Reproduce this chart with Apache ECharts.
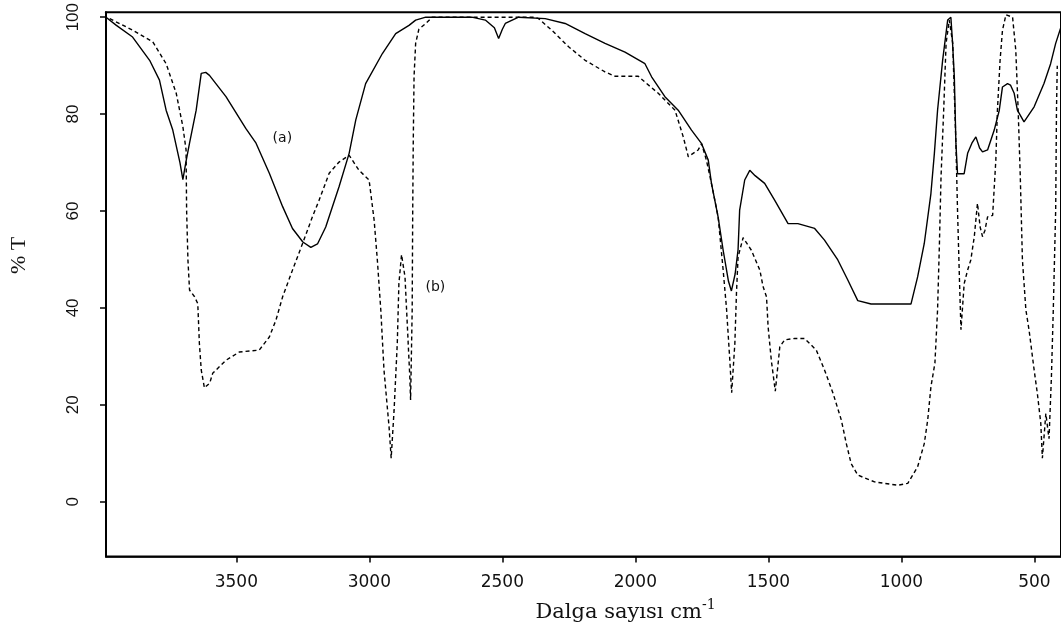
<!DOCTYPE html>
<html>
<head>
<meta charset="utf-8">
<script src="https://cdn.jsdelivr.net/npm/echarts@6/dist/echarts.min.js"></script>
<style>
  html, body { margin: 0; padding: 0; background: #fff; }
  #chart { width: 1061px; height: 639px; }
</style>
</head>
<body>
<div id="chart"></div>
<script>
// FTIR spectra: wavenumber (cm-1) vs. % transmittance
const waveA = [3990,3951,3890,3826,3789,3764,3739,3712,3701,3690,3676,3651,3632,3615,3601,3539,3464,3426,3376,3326,3289,3250,3220,3195,3164,3114,3076,3051,3014,2951,2901,2851,2826,2788,2615,2564,2530,2514,2500,2489,2439,2339,2264,2189,2114,2039,1964,1939,1889,1839,1789,1751,1726,1714,1689,1670,1650,1639,1625,1614,1608,1589,1570,1550,1514,1476,1426,1389,1326,1289,1239,1201,1164,1114,1050,964,939,914,889,876,864,845,826,814,808,801,795,789,764,751,735,720,706,695,676,651,632,620,601,590,576,564,539,501,464,439,420,400];
const transA = [100,98.3,95.9,91.1,87,80.8,76.7,70,66.5,70,74,80.8,88.4,88.6,88,83.6,77,74,67.8,60.9,56.4,53.6,52.5,53.2,56.7,65,71.9,78.8,86.3,92.5,96.6,98.3,99.4,100,100,99.4,97.8,95.6,97.5,98.7,100,99.7,98.7,96.6,94.6,92.8,90.4,87.7,83.6,80.8,76.7,73.9,70.5,65.7,58.8,51.9,45.5,43.5,47,52,60.2,66.4,68.4,67.3,65.7,62.2,57.4,57.4,56.4,54,49.9,45.7,41.5,40.8,40.8,40.8,46.4,53.3,63.6,71.9,80.8,91.1,99.4,100,95,87.7,73.9,67.7,67.7,71.9,74,75.3,73,72.2,72.6,76.7,80.8,85.6,86.3,86,84.3,80.8,78.4,81.5,86.3,90.4,94.6,98];

const waveB = [3976,3889,3814,3764,3726,3701,3689,3687,3682,3676,3657,3645,3639,3632,3620,3600,3589,3539,3489,3414,3376,3351,3326,3289,3251,3214,3189,3151,3114,3076,3039,3001,2982,2970,2957,2945,2926,2918,2907,2895,2889,2879,2866,2857,2848,2845,2839,2837,2835,2832,2826,2814,2788,2764,2380,2364,2314,2251,2189,2114,2076,1989,1964,1914,1851,1820,1801,1764,1751,1733,1714,1689,1670,1657,1645,1638,1626,1620,1614,1595,1564,1532,1520,1507,1501,1489,1474,1457,1439,1401,1364,1320,1289,1257,1226,1207,1189,1164,1101,1014,976,939,914,901,889,874,864,857,851,841,832,820,807,795,789,782,776,764,751,739,726,714,704,695,686,676,657,645,639,629,620,607,582,570,561,553,545,532,520,501,489,476,470,457,445,436,429,420,417,414];
const transB = [99.7,97.3,94.9,90.4,84.3,77.4,72.6,60.2,49.9,43.7,42.3,40.9,32.7,27.2,23.5,24.5,26.5,29.2,30.9,31.3,34,37.5,42.3,47.8,53.3,58.8,62.2,67.8,70.1,71.5,68.4,66.4,58.1,49.9,39.6,27.2,15.5,9,18.9,32.7,45,51,46.4,36.1,25.8,21,39.6,60.2,74,87.7,94.6,97.5,98.7,100,100,99.7,97.3,93.9,91.1,88.7,87.8,87.8,86.6,84.3,80.8,75.3,71.2,72.6,73.9,70.5,65.7,58.8,47.8,39.6,29.2,22.5,32.7,43,50.5,54.5,51.9,47.8,44.4,42.3,36.1,29.2,22.8,32,33.4,33.7,33.7,31.3,27.2,22.4,16.9,12,7.9,5.5,4.1,3.4,3.8,7.2,12,16.9,23.7,28.6,39.6,53.3,67,80.8,94.6,99.4,94.6,73.9,60.2,46.4,35.5,45,47.8,49.9,54.7,61.6,56.7,54.7,56,58.8,59.1,70.5,80.8,91.1,97.3,100.5,100,93.2,80.8,67,49.9,39.6,35.4,27.2,22.4,16.2,9,18.2,13,25.8,39.6,60.2,80.8,90];

const xTicks = [3500, 3000, 2500, 2000, 1500, 1000, 500];
const yTicks = [0, 20, 40, 60, 80, 100];

// curve tags placed next to each spectrum
const tagA = { text: '(a)', at: [3327, 75] };
const tagB = { text: '(b)', at: [2752, 44.3] };

const pairs = (xs, ys) => xs.map((x, i) => [x, ys[i]]);

const chart = echarts.init(document.getElementById('chart'), null, { renderer: 'canvas' });

const tagPoint = (t) => ({
  symbol: 'circle',
  symbolSize: 0,
  silent: true,
  label: {
    show: true, position: 'inside', color: '#111',
    fontFamily: 'DejaVu Sans', fontSize: 14, formatter: t.text
  },
  data: [{ coord: t.at }]
});

chart.setOption({
  animation: false,
  backgroundColor: '#ffffff',
  grid: {
    left: 106, top: 12, width: 958, height: 544.5,
    show: true, borderColor: '#000', borderWidth: 2, backgroundColor: 'transparent'
  },
  xAxis: {
    type: 'value',
    inverse: true,
    min: 400, max: 3990,
    splitLine: { show: false },
    axisLine: { show: true, onZero: false, lineStyle: { color: '#000', width: 1.5 } },
    axisTick: { show: true, length: 6, customValues: xTicks, lineStyle: { color: '#000', width: 1.5 } },
    axisLabel: {
      customValues: xTicks, margin: 18, color: '#111',
      fontFamily: 'DejaVu Sans', fontSize: 17,
      formatter: (v) => String(v)
    },
    name: 'Dalga sayısı cm{sup|-1}',
    nameLocation: 'middle',
    nameGap: 42,
    nameTextStyle: {
      color: '#111', fontFamily: 'DejaVu Serif', fontSize: 21,
      padding: [0, 0, 0, 84],
      rich: { sup: { fontFamily: 'DejaVu Serif', fontSize: 14, color: '#111', verticalAlign: 'top', padding: [0, 0, 14, 0] } }
    }
  },
  yAxis: {
    type: 'value',
    min: -11.3, max: 101,
    splitLine: { show: false },
    axisLine: { show: true, onZero: false, lineStyle: { color: '#000', width: 2 } },
    axisTick: { show: true, length: 6, customValues: yTicks, lineStyle: { color: '#000', width: 1.5 } },
    axisLabel: {
      customValues: yTicks, rotate: 90, margin: 24, color: '#111',
      fontFamily: 'Liberation Sans', fontSize: 17,
      formatter: (v) => String(v)
    },
    name: '% T',
    nameLocation: 'middle',
    nameGap: 76,
    nameRotate: 90,
    nameTextStyle: { color: '#111', fontFamily: 'Liberation Serif', fontSize: 22, padding: [0, 0, 0, 58] }
  },
  series: [
    {
      name: '(a)', type: 'line', data: pairs(waveA, transA),
      showSymbol: false, smooth: false,
      lineStyle: { color: '#000', width: 1.4, type: 'solid' },
      markPoint: tagPoint(tagA)
    },
    {
      name: '(b)', type: 'line', data: pairs(waveB, transB),
      showSymbol: false, smooth: false,
      lineStyle: { color: '#000', width: 1.4, type: [4, 3] },
      markPoint: tagPoint(tagB)
    }
  ]
});
</script>
</body>
</html>
